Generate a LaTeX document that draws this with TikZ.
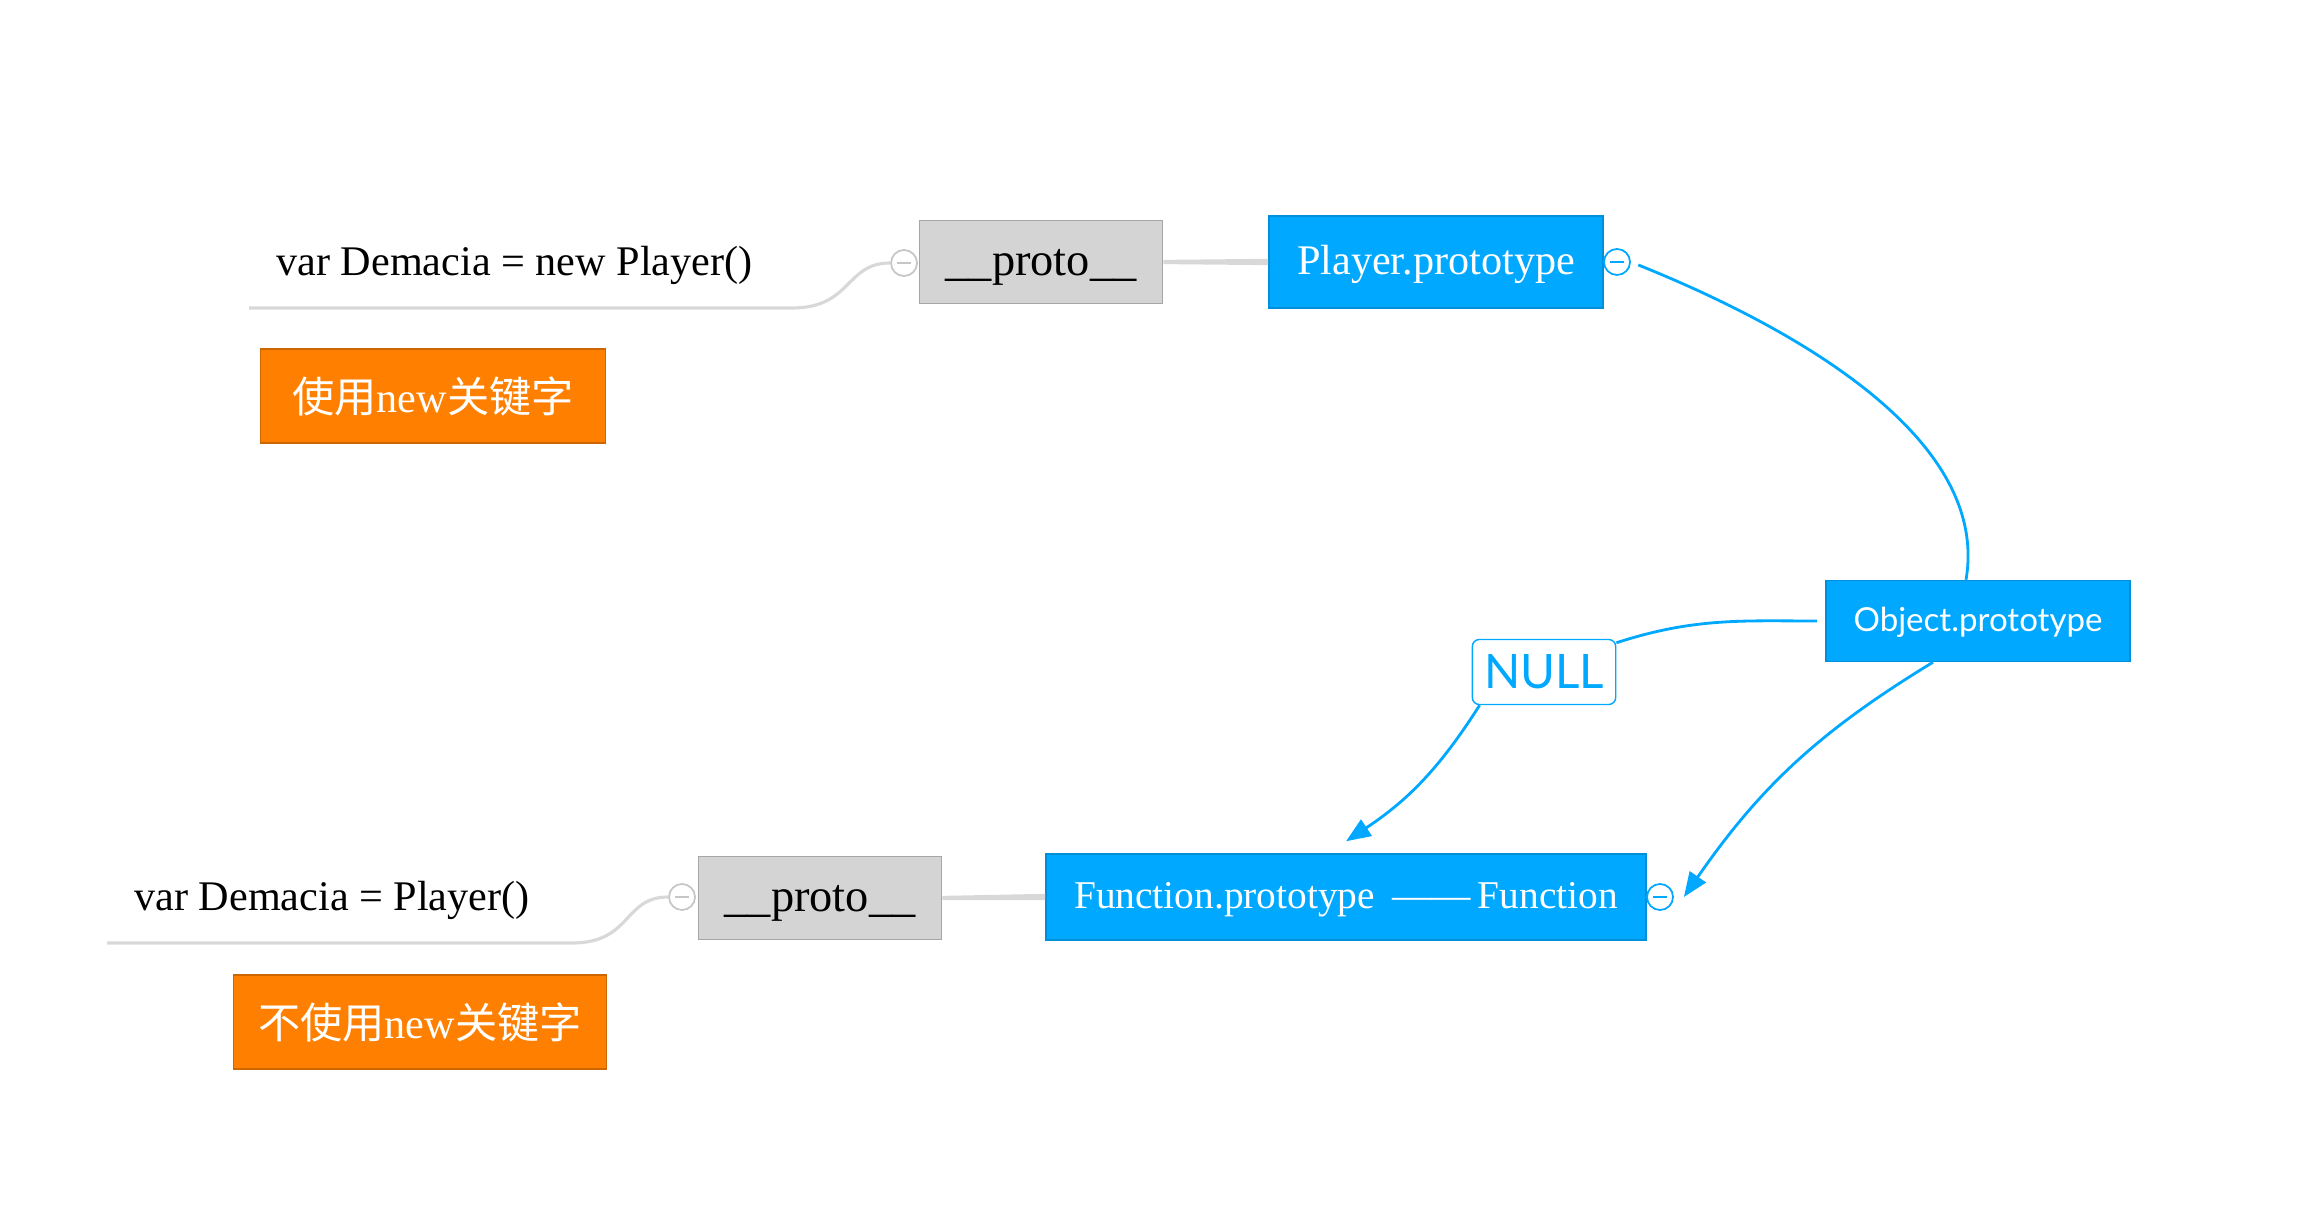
\documentclass[tikz,border=0pt]{standalone}
\usepackage{fontspec}
\setmainfont{Liberation Serif}
\newfontfamily\cjk{Noto Sans CJK SC}
\newfontfamily\sansfont{Lato}
\usetikzlibrary{arrows.meta}
\definecolor{mapblue}{RGB}{0,168,255}
\definecolor{maporange}{RGB}{255,128,0}
\definecolor{protogray}{RGB}{212,212,212}
\definecolor{linegray}{RGB}{216,216,216}

\begin{document}
\begin{tikzpicture}[x=0.01cm,y=-0.01cm]
  \tikzstyle{proto}=[draw=gray!70,fill=protogray,minimum width=2.43cm,minimum height=0.83cm,text depth=0pt,font=\fontsize{13.2}{15}\selectfont]
  \tikzstyle{topic}=[draw=mapblue!85!black,fill=mapblue,text=white,line width=0.4pt,text depth=1pt,font=\fontsize{12}{14}\selectfont]
  \tikzstyle{note}=[draw=maporange!80!black,fill=maporange,text=white,minimum height=0.94cm,font=\fontsize{12}{14}\selectfont]
  \tikzstyle{fold}=[circle,draw,inner sep=0pt,minimum size=0.26cm,line width=0.5pt,path picture={\draw ([xshift=1.8pt]path picture bounding box.west) -- ([xshift=-1.8pt]path picture bounding box.east);}]
  \tikzstyle{stem}=[linegray,line width=0.9pt]
  \tikzstyle{link}=[mapblue,line width=0.8pt]
  \tikzstyle{arrow}=[link,-{Triangle[length=7pt,width=5.5pt]}]
  \useasboundingbox (0,0) rectangle (2300,1210);

  \node[anchor=west,font=\fontsize{12}{14}\selectfont] (v1) at (264,265) {var Demacia = new Player()};
  \node[fold,color=gray!45,fill=white] (f1) at (904,263) {};
  \node[proto] (p1) at (1041,262) {\_\_proto\_\_};
  \node[topic,minimum width=3.34cm,minimum height=0.92cm] (pl) at (1436,262) {Player.prototype};
  \node[fold,color=mapblue,fill=white] (f2) at (1617,262) {};
  \node[note,minimum width=3.45cm] (n1) at (433,396) {{\cjk 使用}new{\cjk 关键字}};

  \node[topic,minimum width=3.04cm,minimum height=0.81cm,font=\sansfont\fontsize{9.4}{11}\selectfont] (obj) at (1978,621) {Object.prototype};
  \node[draw=mapblue,fill=white,rounded corners=2pt,text=mapblue,minimum width=1.42cm,minimum height=0.65cm,font=\sansfont\fontsize{13.5}{15}\selectfont] (null) at (1544,672) {NULL};

  \node[anchor=west,font=\fontsize{12}{14}\selectfont] (v2) at (122,900) {var Demacia = Player()};
  \node[fold,color=gray!45,fill=white] (f3) at (682,897) {};
  \node[proto] (p2) at (820,898) {\_\_proto\_\_};
  \node[topic,minimum width=6cm,minimum height=0.86cm,font=\fontsize{11.2}{13}\selectfont] (fn) at (1346,897) {Function.prototype\hspace{5pt}——\,Function};
  \node[fold,color=mapblue,fill=white] (f4) at (1660,897) {};
  \node[note,minimum width=3.73cm] (n2) at (420,1022) {{\cjk 不使用}new{\cjk 关键字}};

  \coordinate (u1) at (249,308);
  \coordinate (u2) at (107,943);
  \draw[stem] (u1) -- ++(543,0) .. controls +(60,0) and +(-45,0) .. (f1.west);
  \draw[stem] (u2) -- ++(465,0) .. controls +(60,0) and +(-45,0) .. (f3.west);
  \fill[linegray] ([yshift=0.6pt]p1.east) -- ([yshift=0.9pt]pl.west) -- ([yshift=-0.9pt]pl.west) -- ([yshift=-0.6pt]p1.east) -- cycle;
  \fill[linegray] ([yshift=0.6pt]p2.east) -- ([yshift=0.9pt]fn.west) -- ([yshift=-0.9pt]fn.west) -- ([yshift=-0.6pt]p2.east) -- cycle;

  \draw[link,shorten <=0.08cm] (f2.east) .. controls (1800,330) and (1990,440) .. ([xshift=-0.12cm]obj.north);
  \draw[link,shorten <=0.08cm] (obj.west) to[out=180,in=18] ([yshift=-0.04cm]null.north east);
  \draw[arrow] ([xshift=0.08cm]null.south west) to[bend left=12] ([yshift=0.12cm]fn.north);
  \draw[arrow] ([xshift=-0.45cm]obj.south) to[bend right=12] ([xshift=0.1cm]f4.east);
\end{tikzpicture}
\end{document}
